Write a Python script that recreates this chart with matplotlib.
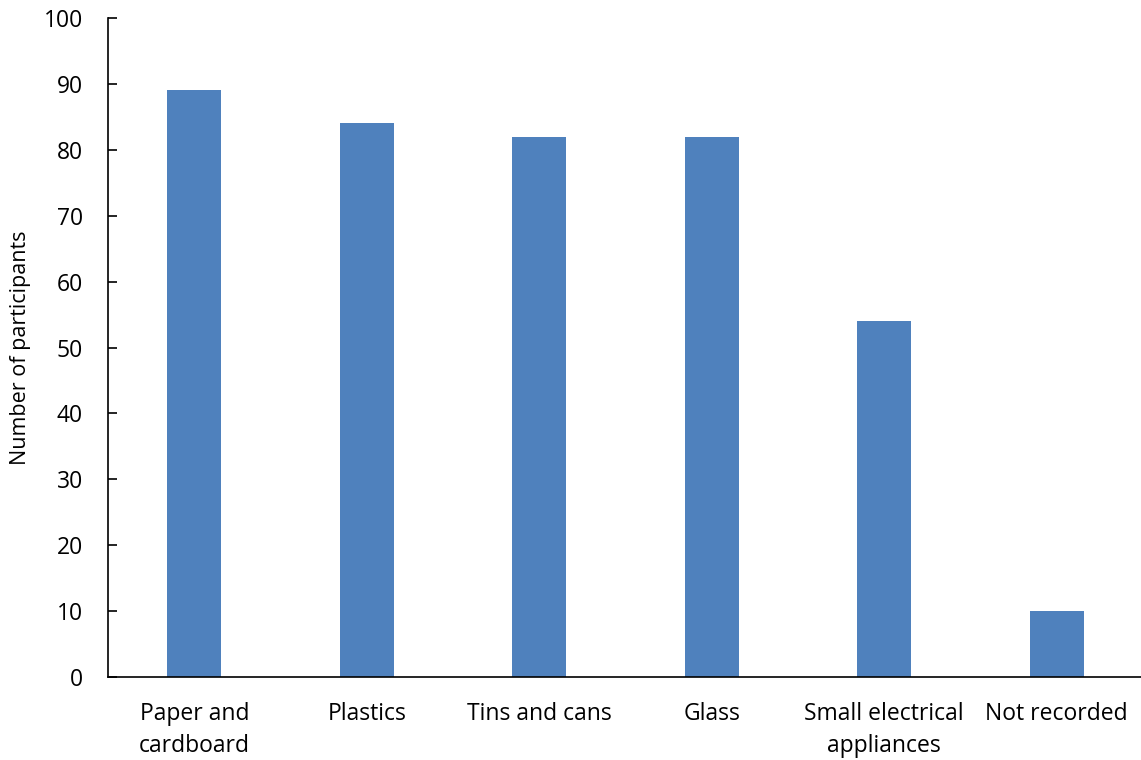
import matplotlib.pyplot as plt

categories = ["Paper and\ncardboard", "Plastics", "Tins and cans", "Glass",
              "Small electrical\nappliances", "Not recorded"]
participants = [89, 84, 82, 82, 54, 10]
y_ticks = list(range(0, 101, 10))

plt.rcParams['font.family'] = ['Open Sans', 'DejaVu Sans']

fig = plt.figure(figsize=(11.41, 7.6), dpi=100)
ax = fig.add_axes([108 / 1141, 1 - 677 / 760, 1035 / 1141, 659 / 760])

ax.bar(range(len(categories)), participants, width=0.313, color="#4F81BD")

ax.set_xlim(-0.5, len(categories) - 0.5)
ax.set_ylim(0, 100)
ax.set_yticks(y_ticks)
ax.set_xticks(range(len(categories)))
ax.set_xticklabels(categories, fontsize=16.5, linespacing=1.42)
ax.tick_params(axis='x', length=0, pad=18)
ax.tick_params(axis='y', direction='in', length=6.5, width=1.2,
               labelsize=16.5, pad=18)
ax.set_ylabel("Number of participants", fontsize=15.5, labelpad=9)

for side in ["top", "right"]:
    ax.spines[side].set_visible(False)
for side in ["left", "bottom"]:
    ax.spines[side].set_linewidth(1.2)

fig.savefig("out.png", dpi=100)
